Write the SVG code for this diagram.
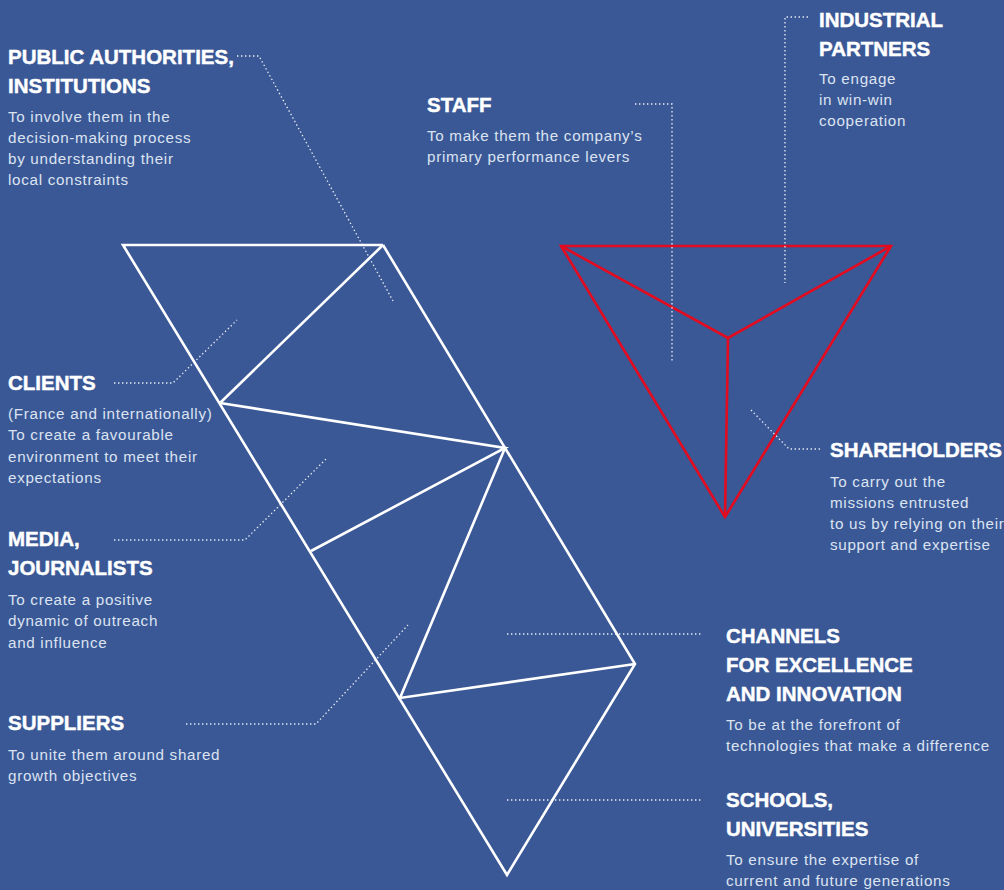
<svg xmlns="http://www.w3.org/2000/svg" width="1004" height="890" viewBox="0 0 1004 890">
  <style>
    .title { font-family: "Liberation Sans", Arial, sans-serif; font-weight: bold; font-size: 20.5px; fill: #ffffff; stroke: #ffffff; stroke-width: 0.45; }
    .body { font-family: "Liberation Sans", Arial, sans-serif; font-size: 15.2px; letter-spacing: 0.7px; fill: #dce3f1; }
    .frame { fill: none; stroke: #ffffff; stroke-width: 2.6; stroke-linejoin: miter; }
    .core { fill: none; stroke: #e30b1f; stroke-width: 2.6; stroke-linejoin: miter; }
    .leader { fill: none; stroke: #ffffff; stroke-width: 1.3; stroke-dasharray: 1.4 2.6; opacity: 0.9; }
  </style>

  <rect x="0" y="0" width="1004" height="890" fill="#3a5896"/>

  <!-- White strip of triangles -->
  <g id="strip">
    <polyline class="frame" points="383,245 123,245 507,875 635,664 383,245"/>
    <polyline class="frame" points="220,403 383,245"/>
    <polyline class="frame" points="220,403 505,448 311,551"/>
    <polyline class="frame" points="505,448 400,698 635,664"/>
  </g>

  <!-- Red tetrahedron -->
  <g id="core">
    <polygon class="core" points="561,246 891,246 725,517"/>
    <polyline class="core" points="561,246 728,338 891,246"/>
    <line class="core" x1="728" y1="338" x2="725" y2="517"/>
  </g>

  <!-- Dotted leaders -->
  <g id="connectors">
    <polyline class="leader" points="237,56 259,56 393,301"/>
    <polyline class="leader" points="114,383 173,383 237,320"/>
    <polyline class="leader" points="114,540 245,540 327,458"/>
    <polyline class="leader" points="186,724 316,724 408,625"/>
    <polyline class="leader" points="507,634 703,634"/>
    <polyline class="leader" points="507,800 703,800"/>
    <polyline class="leader" points="635,104 672,104 672,363"/>
    <polyline class="leader" points="808,17 785,17 785,283"/>
    <polyline class="leader" points="820,449 789,449 750,409"/>
  </g>

  <g id="public-authorities">
    <text class="title" x="8" y="63.5">PUBLIC AUTHORITIES,</text>
    <text class="title" x="8" y="92.5">INSTITUTIONS</text>
    <text class="body" x="8" y="121.5">To involve them in the</text>
    <text class="body" x="8" y="142.8">decision-making process</text>
    <text class="body" x="8" y="164.1">by understanding their</text>
    <text class="body" x="8" y="185.4">local constraints</text>
  </g>

  <g id="staff">
    <text class="title" x="427" y="111.5">STAFF</text>
    <text class="body" x="427" y="141">To make them the company’s</text>
    <text class="body" x="427" y="162.3">primary performance levers</text>
  </g>

  <g id="industrial-partners">
    <text class="title" x="819" y="26.5">INDUSTRIAL</text>
    <text class="title" x="819" y="55.5">PARTNERS</text>
    <text class="body" x="819" y="83.5">To engage</text>
    <text class="body" x="819" y="104.8">in win-win</text>
    <text class="body" x="819" y="126.1">cooperation</text>
  </g>

  <g id="shareholders">
    <text class="title" x="830" y="456.5">SHAREHOLDERS</text>
    <text class="body" x="830" y="486.5">To carry out the</text>
    <text class="body" x="830" y="507.8">missions entrusted</text>
    <text class="body" x="830" y="529.1">to us by relying on their</text>
    <text class="body" x="830" y="550.4">support and expertise</text>
  </g>

  <g id="clients">
    <text class="title" x="8" y="390">CLIENTS</text>
    <text class="body" x="8" y="419">(France and internationally)</text>
    <text class="body" x="8" y="440.3">To create a favourable</text>
    <text class="body" x="8" y="461.6">environment to meet their</text>
    <text class="body" x="8" y="482.9">expectations</text>
  </g>

  <g id="media">
    <text class="title" x="8" y="546">MEDIA,</text>
    <text class="title" x="8" y="575">JOURNALISTS</text>
    <text class="body" x="8" y="605">To create a positive</text>
    <text class="body" x="8" y="626.3">dynamic of outreach</text>
    <text class="body" x="8" y="647.6">and influence</text>
  </g>

  <g id="suppliers">
    <text class="title" x="8" y="730">SUPPLIERS</text>
    <text class="body" x="8" y="759.5">To unite them around shared</text>
    <text class="body" x="8" y="780.8">growth objectives</text>
  </g>

  <g id="channels">
    <text class="title" x="726" y="642.5">CHANNELS</text>
    <text class="title" x="726" y="671.5">FOR EXCELLENCE</text>
    <text class="title" x="726" y="700.5">AND INNOVATION</text>
    <text class="body" x="726" y="730">To be at the forefront of</text>
    <text class="body" x="726" y="751.3">technologies that make a difference</text>
  </g>

  <g id="schools">
    <text class="title" x="726" y="807.3">SCHOOLS,</text>
    <text class="title" x="726" y="836.3">UNIVERSITIES</text>
    <text class="body" x="726" y="865">To ensure the expertise of</text>
    <text class="body" x="726" y="886.3">current and future generations</text>
  </g>
</svg>
